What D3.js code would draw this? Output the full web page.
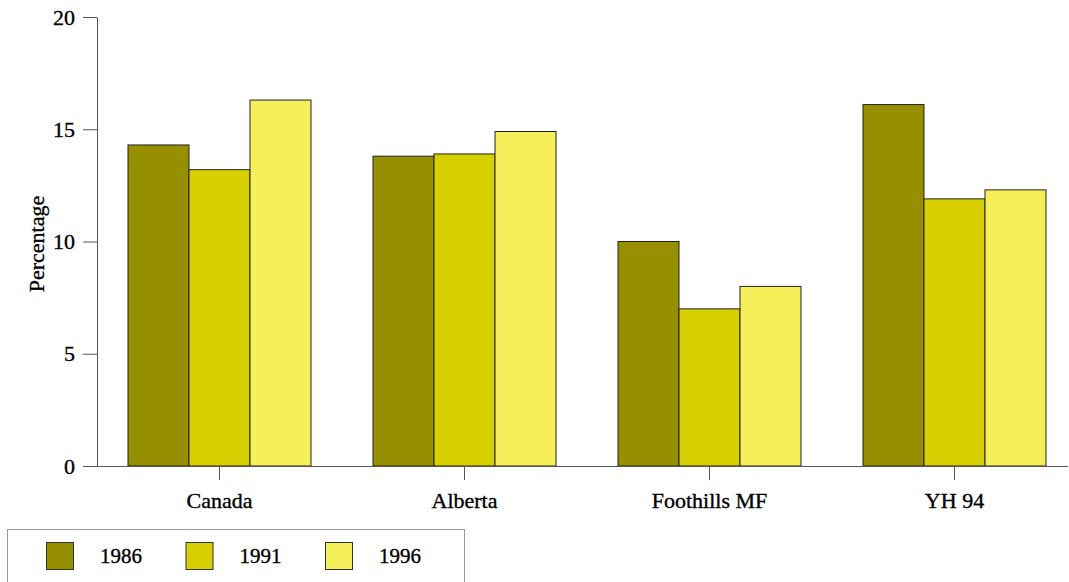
<!DOCTYPE html>
<html><head><meta charset="utf-8">
<script src="https://cdn.jsdelivr.net/npm/d3@7"></script>
<style>body{margin:0;background:#fff}svg{display:block}</style>
</head><body>
<svg id="c" width="1069" height="582"></svg>
<script>
const categories = ["Canada", "Alberta", "Foothills MF", "YH 94"];
const seriesNames = ["1986", "1991", "1996"];
const values1986 = [14.3, 13.8, 10.0, 16.1];
const values1991 = [13.2, 13.9, 7.0, 11.9];
const values1996 = [16.3, 14.9, 8.0, 12.3];
const yTicks = [0, 5, 10, 15, 20];
const colors = ["#969000", "#d8cf00", "#f5f05a"];
const yLabel = "Percentage";

const series = [values1986, values1991, values1996];
const svg = d3.select("#c");
const FONT = "Liberation Serif";

function styleText(sel, size) {
  sel.attr("font-family", FONT).attr("font-size", size).attr("fill", "#000")
     .attr("stroke", "#000").attr("stroke-width", 0.35);
}

const x0 = d3.scaleBand().domain(categories).range([97, 1077]).paddingInner(0.253).paddingOuter(0.1265);
const x1 = d3.scaleBand().domain(seriesNames).range([0, x0.bandwidth()]);
const y = d3.scaleLinear().domain([0, 20]).range([466, 17]);

// bars
categories.forEach((c, i) => {
  const g = svg.append("g").attr("transform", `translate(${x0(c)},0)`);
  seriesNames.forEach((s, j) => {
    g.append("rect")
      .attr("x", x1(s)).attr("width", x1.bandwidth())
      .attr("y", y(series[j][i])).attr("height", y(0) - y(series[j][i]))
      .attr("fill", colors[j]).attr("stroke", "#222").attr("stroke-width", 1);
  });
});

// y axis
const yAxis = d3.axisLeft(y).tickValues(yTicks).tickSize(14).tickPadding(8).tickSizeOuter(0);
const yg = svg.append("g").attr("transform", "translate(97,0)").call(yAxis);
yg.attr("font-family", FONT);
yg.select(".domain").attr("stroke", "#555");
yg.selectAll(".tick line").attr("stroke", "#555");
styleText(yg.selectAll(".tick text"), 22);

// x axis
const xAxis = d3.axisBottom(x0).tickSize(14).tickPadding(12).tickSizeOuter(0);
const xg = svg.append("g").attr("transform", "translate(0,466)").call(xAxis);
xg.attr("font-family", FONT);
xg.select(".domain").attr("d", "M97,0.5H1068").attr("stroke", "#555");
xg.selectAll(".tick line").attr("stroke", "#555");
styleText(xg.selectAll(".tick text"), 22);

// y label
styleText(svg.append("text").attr("transform", "translate(44,244) rotate(-90)")
  .attr("text-anchor", "middle").text(yLabel), 22);

// legend
const lg = svg.append("g");
lg.append("rect").attr("x", 7.5).attr("y", 529.5).attr("width", 457).attr("height", 56)
  .attr("fill", "#fff").attr("stroke", "#999");
const legX = d3.scalePoint().domain(seriesNames).range([46, 325]);
seriesNames.forEach((s, j) => {
  lg.append("rect").attr("x", legX(s) + 0.5).attr("y", 542.5).attr("width", 27).attr("height", 27)
    .attr("fill", colors[j]).attr("stroke", "#333");
  styleText(lg.append("text").attr("x", legX(s) + 54).attr("y", 563).text(s), 21);
});
</script>
</body></html>
